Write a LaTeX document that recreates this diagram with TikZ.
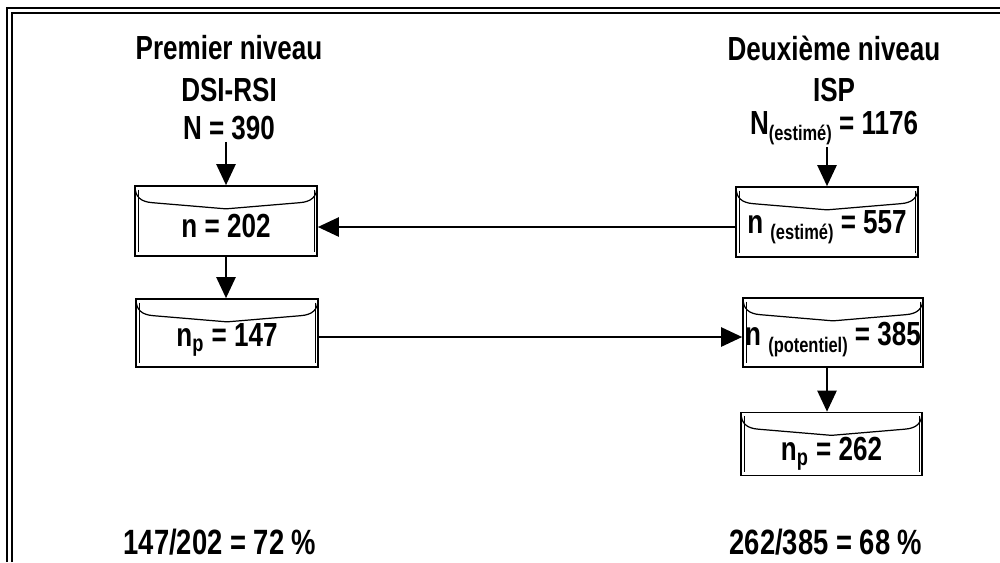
\documentclass[tikz,border=0pt]{standalone}
\usepackage{fontspec}
\setmainfont{Liberation Sans}[FakeStretch=0.78]
\usetikzlibrary{arrows.meta}
\newcommand\smallsub[1]{\raisebox{-0.35ex}{\fontsize{12}{14}\selectfont #1}}
\tikzset{
  txt/.style={font=\fontsize{19}{22}\selectfont\bfseries, inner sep=1pt},
  bigtxt/.style={font=\fontsize{20}{24}\selectfont\bfseries, inner sep=1pt},
  frameline/.style={line width=1.1pt},
  arr/.style={line width=1pt, -{Triangle[length=12pt,width=11pt]}},
  env/.style={draw, line width=1pt, inner sep=0pt, minimum width=3.64cm, minimum height=1.4cm,
    path picture={
      \draw[line width=0.7pt]
        (path picture bounding box.north west)
        .. controls ([shift={(0pt,-6pt)}]path picture bounding box.north west)
           and ([shift={(3pt,-9pt)}]path picture bounding box.north west)
        .. ([shift={(10pt,-9.5pt)}]path picture bounding box.north west)
        -- ([shift={(0pt,-13pt)}]path picture bounding box.north)
        -- ([shift={(-10pt,-9.5pt)}]path picture bounding box.north east)
        .. controls ([shift={(-3pt,-9pt)}]path picture bounding box.north east)
           and ([shift={(0pt,-6pt)}]path picture bounding box.north east)
        .. (path picture bounding box.north east);
      \draw[line width=0.35pt]
        ([shift={(1.8pt,-2pt)}]path picture bounding box.north west) --
        ([shift={(1.8pt,2pt)}]path picture bounding box.south west)
        ([shift={(-1.8pt,-2pt)}]path picture bounding box.north east) --
        ([shift={(-1.8pt,2pt)}]path picture bounding box.south east);
    }}
}
\begin{document}
\begin{tikzpicture}[x=0.02cm, y=-0.02cm]
\useasboundingbox (0,0) rectangle (1000,562);
% frame
\coordinate (fo1) at (7,562); \coordinate (fo2) at (7,8); \coordinate (fo3) at (1000,8);
\coordinate (fi1) at (12,562); \coordinate (fi2) at (12,13); \coordinate (fi3) at (1000,13);
\draw[frameline] (fo1) -- (fo2) -- (fo3);
\draw[frameline] (fi1) -- (fi2) -- (fi3);

% headings
\node[txt] (h1) at (229,48) {Premier niveau};
\node[txt] (h2) at (229,90) {DSI-RSI};
\node[txt] (h3) at (229,128) {N = 390};
\node[txt] (g1) at (834,48) {Deuxième niveau};
\node[txt] (g2) at (834,90) {ISP};
\node[txt] (g3) at (834,128) {N\smallsub{(estimé)} = 1176};

% envelopes
\node[env] (b1) at (226,221) {};
\node[env, minimum height=1.36cm] (b2) at (227,333) {};
\node[env] (b3) at (827,222) {};
\node[env, minimum width=3.6cm, minimum height=1.38cm] (b4) at (833,332.5) {};
\node[env, minimum width=3.62cm, minimum height=1.26cm] (b5) at (831.5,444) {};

\node[txt] (t1) at ([yshift=-0.1cm]b1.center) {n = 202};
\node[txt] (t2) at ([yshift=-0.14cm]b2.center) {n\textsubscript{p} = 147};
\node[txt] (t3) at ([yshift=-0.1cm]b3.center) {n \smallsub{(estimé)} = 557};
\node[txt] (t4) at ([yshift=-0.14cm]b4.center) {n \smallsub{(potentiel)} = 385};
\node[txt] (t5) at ([yshift=-0.2cm]b5.center) {n\textsubscript{p} = 262};

% arrows
\draw[arr] (b1.north |- h3.south) -- (b1.north);
\draw[arr] (b1.south) -- (b1.south |- b2.north);
\draw[arr] (b3.north |- g3.south) -- (b3.north);
\draw[arr] ([xshift=-0.12cm]b4.south) -- ([xshift=-0.12cm]b4.south |- b5.north);
\draw[arr] ([yshift=-0.1cm]b3.west) -- ([yshift=-0.1cm]b3.west -| b1.east);
\draw[arr] ([yshift=-0.08cm]b2.east) -- ([yshift=-0.08cm]b2.east -| b4.west);

% results
\node[bigtxt] (r1) at (220,542) {147/202 = 72 \%};
\node[bigtxt] (r2) at (826,542) {262/385 = 68 \%};
\end{tikzpicture}
\end{document}
